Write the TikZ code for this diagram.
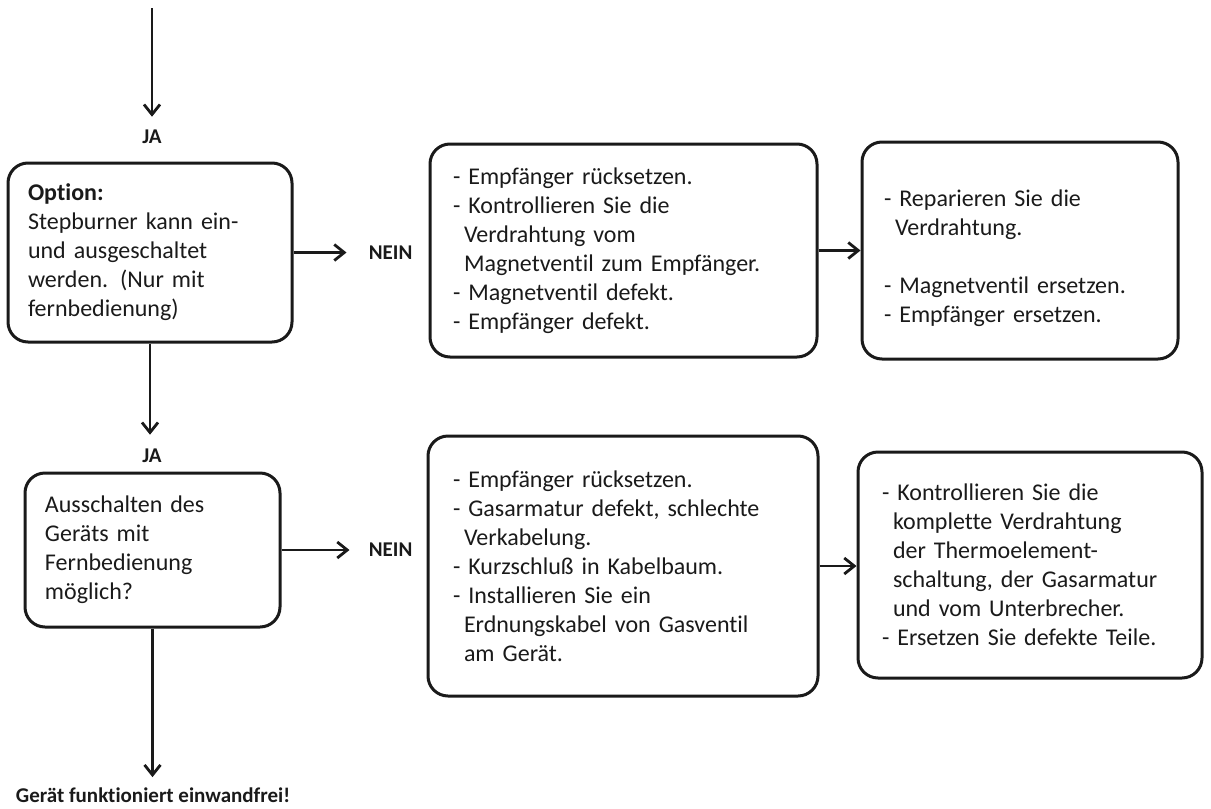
\documentclass[tikz,border=0pt]{standalone}
\usepackage{fontspec}
\setmainfont{Carlito}[Ligatures={NoCommon,NoContextual}]
\usepackage{xcolor}
\usetikzlibrary{arrows.meta,positioning}
\definecolor{ink}{HTML}{1A1A1A}
\newcommand{\ind}{\hspace*{5.5pt}}

\begin{document}
\begin{tikzpicture}[x=0.5pt, y=-0.5pt, >={Straight Barb[length=5pt,width=8pt]},
  box/.style={draw=ink, line width=1.5pt, rounded corners=10pt, align=left, inner ysep=0pt, text=ink, font=\fontsize{12}{14.5}\selectfont},
  lbl/.style={inner sep=0pt, text=ink, font=\fontsize{10.5}{12}\selectfont\bfseries},
  arr/.style={->, draw=ink, line width=1.4pt}]
  \useasboundingbox (0,0) rectangle (1211,809);
  % first row
  \node[box, minimum height=89.5pt, text width=122pt, inner xsep=10pt] (opt) at (150,252.5)
    {\textbf{Option:}\\ Stepburner kann ein-\\ und ausgeschaltet\\ werden. (Nur mit\\ fernbedienung)};
  \node[box, minimum height=106.5pt, text width=170.5pt, inner xsep=11.5pt] (empf1) at (623.5,250.5)
    {- Empfänger rücksetzen.\\ - Kontrollieren Sie die\\ \ind Verdrahtung vom\\ \ind Magnetventil zum Empfänger.\\ - Magnetventil defekt.\\ - Empfänger defekt.};
  \node[box, minimum height=108.5pt, text width=136pt, inner xsep=11pt] (rep1) at (1020,250.5)
    {\rule{0pt}{16pt}- Reparieren Sie die\\ \ind Verdrahtung.\\[14.5pt] - Magnetventil ersetzen.\\ - Empfänger ersetzen.};
  % second row
  \node[box, minimum height=77pt, text width=107.5pt, inner xsep=10pt] (aus) at (152.5,550)
    {Ausschalten des\\ Geräts mit\\ Fernbedienung\\ möglich?};
  \node[box, minimum height=130pt, text width=170pt, inner xsep=12.5pt] (empf2) at (623,566)
    {- Empfänger rücksetzen.\\ - Gasarmatur defekt, schlechte\\ \ind Verkabelung.\\ - Kurzschluß in Kabelbaum.\\ - Installieren Sie ein\\ \ind Erdnungskabel von Gasventil\\ \ind am Gerät.};
  \node[box, minimum height=113pt, text width=148pt, inner xsep=12pt] (ktr) at (1030,565)
    {- Kontrollieren Sie die\\ \ind komplette Verdrahtung\\ \ind der Thermoelement-\\ \ind schaltung, der Gasarmatur\\ \ind und vom Unterbrecher.\\ - Ersetzen Sie defekte Teile.};
  % labels
  \coordinate (start) at (152,8);
  \node[lbl] (ja1) at (152,137) {JA};
  \node[lbl] (ja2) at (152,456) {JA};
  \node[lbl, right=37.5pt of opt] (nein1) {NEIN};
  \node[lbl, right=43.5pt of aus] (nein2) {NEIN};
  \node[lbl] (done) at (153,795) {Gerät funktioniert einwandfrei!};
  % connectors
  \draw[arr, shorten >=6.5pt] (start) -- (ja1.north);
  \draw[arr, shorten >=7pt] (opt.south) -- (opt.south |- ja2.north);
  \draw[arr, shorten >=5pt] (aus.south) -- (aus.south |- done.north);
  \draw[arr, shorten >=11pt] (opt.east) -- (opt.east -| nein1.west);
  \draw[arr, shorten >=9.5pt] (aus.east) -- (aus.east -| nein2.west);
  \draw[arr] (empf1.east) -- (rep1.west);
  \draw[arr] (empf2.east) -- (empf2.east -| ktr.west);
\end{tikzpicture}
\end{document}
